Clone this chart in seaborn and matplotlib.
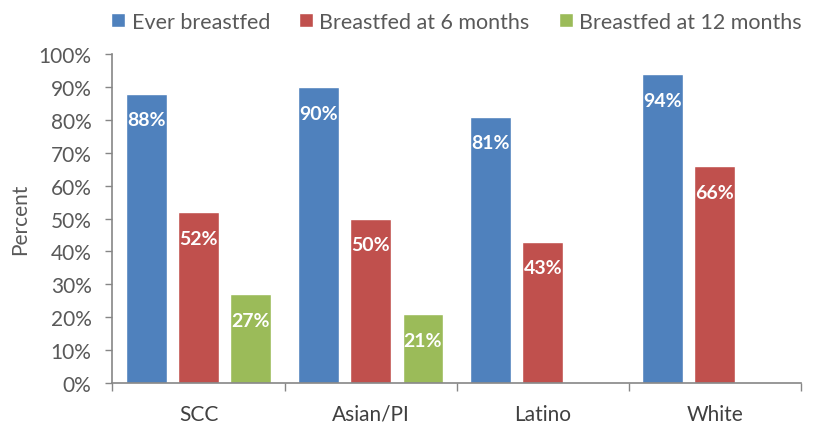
import matplotlib
matplotlib.use("Agg")
import matplotlib.pyplot as plt
import seaborn as sns
import pandas as pd
from matplotlib.ticker import PercentFormatter, FixedLocator

categories = ["SCC", "Asian/PI", "Latino", "White"]
series = ["Ever breastfed", "Breastfed at 6 months", "Breastfed at 12 months"]
ever = [88, 90, 81, 94]
six_months = [52, 50, 43, 66]
twelve_months = [27, 21, None, None]
colors = ["#4F81BD", "#C0504D", "#9BBB59"]

rows = []
for cat, a, b, c in zip(categories, ever, six_months, twelve_months):
    for s, v in zip(series, (a, b, c)):
        if v is not None:
            rows.append({"Group": cat, "Series": s, "Value": v})
df = pd.DataFrame(rows)

sns.set_theme(style="white")
plt.rcParams["font.family"] = ["Lato", "DejaVu Sans"]

fig = plt.figure(figsize=(8.24, 4.27), dpi=100)
ax = fig.add_axes([0.1364, 0.1007, 0.972 - 0.1364, 0.8710 - 0.1007])

sns.barplot(data=df, x="Group", y="Value", hue="Series", order=categories,
            hue_order=series, palette=colors, width=0.912, gap=0.22,
            saturation=1, errorbar=None, ax=ax, legend=True)

ax.set_ylim(0, 100)
ax.set_xlim(-0.5, len(categories) - 0.5)
ax.yaxis.set_major_locator(FixedLocator(range(0, 101, 10)))
ax.yaxis.set_major_formatter(PercentFormatter(decimals=0))

ax.xaxis.set_minor_locator(FixedLocator([i - 0.5 for i in range(len(categories) + 1)]))
ax.tick_params(axis="x", which="major", length=0, pad=15, labelsize=15, labelcolor="#404040")
ax.tick_params(axis="x", which="minor", length=6, width=1, color="#868686", direction="out")
ax.tick_params(axis="y", which="major", length=5, width=1, color="#868686", direction="out",
               labelsize=15, labelcolor="#595959", pad=10)
ax.tick_params(bottom=True, left=True, which="both")

for side in ("top", "right"):
    ax.spines[side].set_visible(False)
for side in ("left", "bottom"):
    ax.spines[side].set_color("#868686")
    ax.spines[side].set_linewidth(1.2)

ax.set_xlabel("")
ax.set_ylabel("Percent", fontsize=15, color="#595959", labelpad=6)

for cont in ax.containers:
    for bar in cont:
        h = bar.get_height()
        if h != h or h == 0:
            continue
        ax.annotate(f"{int(round(h))}%", (bar.get_x() + bar.get_width() / 2, h),
                    xytext=(0, -19), textcoords="offset points", ha="center", va="center",
                    color="white", fontsize=14, fontweight="bold")

handles, labels = ax.get_legend_handles_labels()
ax.get_legend().remove()
fig.legend(handles, labels, loc="center", bbox_to_anchor=(0.554, 0.947), ncol=3,
           frameon=False, fontsize=15.5, handlelength=0.65, handleheight=0.65,
           handletextpad=0.3, columnspacing=1.35, labelcolor="#595959")

fig.savefig("out.png", dpi=100)
